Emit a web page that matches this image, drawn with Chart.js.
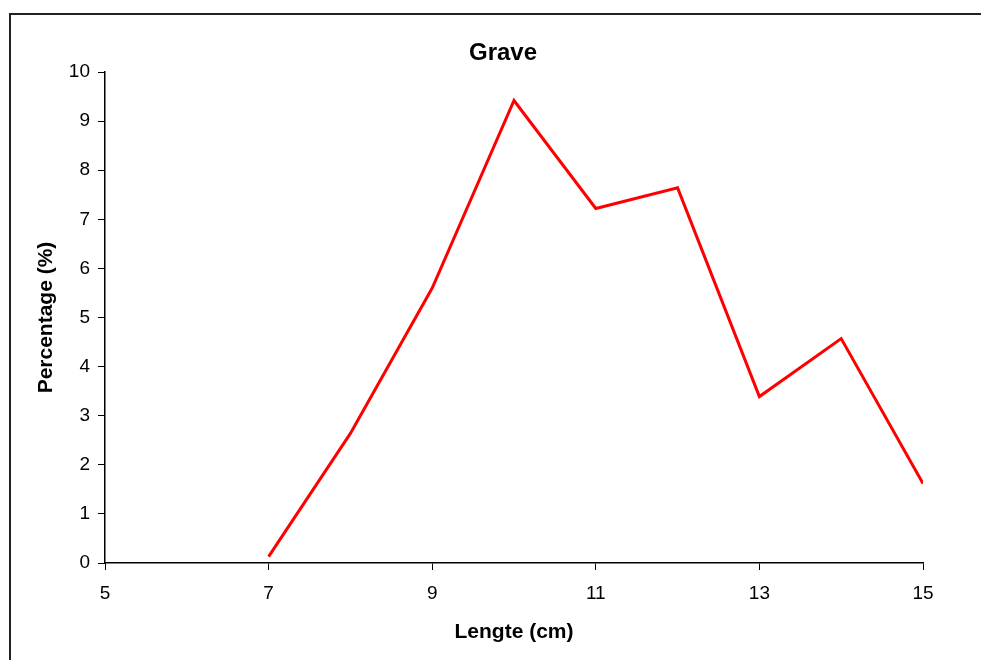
<!DOCTYPE html>
<html>
<head>
<meta charset="utf-8">
<script src="https://cdn.jsdelivr.net/npm/chart.js@4.4.1/dist/chart.umd.min.js"></script>
<style>
  html, body { margin: 0; padding: 0; background: #fff; }
  #wrap { position: relative; width: 981px; height: 660px; overflow: hidden; }
  #frame { position: absolute; left: 9px; top: 13px; width: 1200px; height: 1200px;
           border-left: 2px solid #222; border-top: 2px solid #222; box-sizing: border-box; }
  canvas { position: absolute; left: 0; top: 0; }
</style>
</head>
<body>
<div id="wrap">
  <div id="frame"></div>
  <canvas id="c" width="981" height="660"></canvas>
</div>
<script>
const chartTitle = 'Grave';
const lengths = [7, 8, 9, 10, 11, 12, 13, 14, 15];
const percentages = [0.13, 2.64, 5.60, 9.42, 7.22, 7.64, 3.39, 4.57, 1.62];
const xTicks = [5, 7, 9, 11, 13, 15];
const yTicks = [0, 1, 2, 3, 4, 5, 6, 7, 8, 9, 10];

const FONT = "'Liberation Sans', Arial, sans-serif";

const titlePlugin = {
  id: 'offsetTitle',
  afterDraw(chart) {
    const ctx = chart.ctx;
    ctx.save();
    ctx.font = "bold 24px " + FONT;
    ctx.fillStyle = '#000';
    ctx.textAlign = 'center';
    ctx.textBaseline = 'alphabetic';
    ctx.fillText(chartTitle, 503, 60);
    ctx.restore();
  }
};

new Chart(document.getElementById('c'), {
  type: 'line',
  data: {
    datasets: [{
      data: lengths.map((x, i) => ({ x: x, y: percentages[i] })),
      borderColor: '#ff0000',
      borderWidth: 3,
      pointRadius: 0,
      tension: 0,
      fill: false
    }]
  },
  plugins: [titlePlugin],
  options: {
    responsive: false,
    animation: false,
    devicePixelRatio: 1,
    layout: { padding: { left: 20, right: 58, top: 72, bottom: 0 } },
    plugins: {
      legend: { display: false },
      tooltip: { enabled: false },
      title: { display: false }
    },
    scales: {
      x: {
        type: 'linear',
        min: 5, max: 15,
        afterBuildTicks: (s) => { s.ticks = xTicks.map(v => ({ value: v })); },
        border: { display: true, color: '#000', width: 1.5 },
        grid: { display: true, drawOnChartArea: false, drawTicks: true, tickLength: 7, color: '#000', lineWidth: 1 },
        ticks: { color: '#000', font: { family: FONT, size: 19 }, padding: 12, maxRotation: 0 },
        title: { display: true, text: 'Lengte (cm)', color: '#000', font: { family: FONT, size: 21, weight: 'bold' }, padding: { top: 15, bottom: 15 } },
        afterFit: (s) => { s.height = 97; }
      },
      y: {
        type: 'linear',
        min: 0, max: 10,
        afterBuildTicks: (s) => { s.ticks = yTicks.map(v => ({ value: v })); },
        border: { display: true, color: '#000', width: 1.5 },
        grid: { display: true, drawOnChartArea: false, drawTicks: true, tickLength: 7, color: '#000', lineWidth: 1 },
        ticks: { color: '#000', font: { family: FONT, size: 19 }, padding: 8 },
        title: { display: true, text: 'Percentage (%)', color: '#000', font: { family: FONT, size: 21, weight: 'bold' }, padding: { top: 14, bottom: 12 } },
        afterFit: (s) => { s.width = 85; }
      }
    }
  }
});
</script>
</body>
</html>
